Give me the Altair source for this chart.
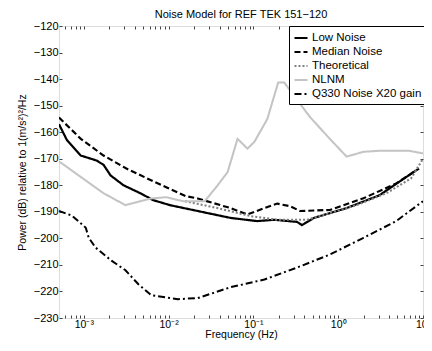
import altair as alt
import pandas as pd

# ---- data (frequency in Hz, power in dB) ----
low_f = [5.1e-4, 6.33e-4, 9.22e-4, 1.42e-3, 1.71e-3, 2.07e-3, 2.94e-3, 4.64e-3, 6.59e-3, 1.04e-2,
         2.21e-2, 5.38e-2, 0.111, 0.176, 0.327, 0.374, 0.517, 1.256, 3.05, 8.28]
low_db = [-157, -163, -168.8, -170.7, -172.3, -176.3, -180, -183, -185.6, -187.5,
          -189.7, -192.3, -193.5, -193, -193.8, -195, -192.3, -188.6, -183.8, -174.4]

med_f = [5.1e-4, 9.22e-4, 1.71e-3, 3.18e-3, 6.59e-3, 1.60e-2, 2.21e-2, 5.38e-2, 8.51e-2, 0.135,
         0.191, 0.271, 0.355, 0.796, 1.986, 4.83, 8.98]
med_db = [-154.5, -162.5, -168.8, -173.7, -178.5, -184.1, -185, -188.6, -191, -188.6,
          -186.9, -187.9, -189.7, -189.3, -184.9, -179.3, -173.7]

theo_f = [1.56e-2, 3.79e-2, 9.23e-2, 0.191, 0.428, 0.733, 1.644, 3.69, 7.24, 10.0]
theo_db = [-186, -188.6, -191.6, -193, -193, -190.8, -187.5, -183, -177.4, -170]

nlnm_f = [5.1e-4, 1.71e-3, 3.10e-3, 6.08e-3, 9.35e-3, 1.48e-2, 2.67e-2, 3.79e-2, 4.97e-2, 6.50e-2,
          8.51e-2, 0.103, 0.146, 0.196, 0.231, 0.465, 0.796, 1.256, 1.986, 3.05, 6.86, 10.0]
nlnm_db = [-171, -183, -187.5, -185, -184.5, -186, -186, -180, -175, -162.5,
           -166.2, -163.6, -155, -141.3, -141.3, -154.3, -162.5, -169.2, -167.4, -167, -167, -168]

q330_f = [5.1e-4, 7.24e-4, 1.055e-3, 1.144e-3, 1.38e-3, 2.12e-3, 3.10e-3, 4.40e-3, 6.24e-3, 1.29e-2,
          2.21e-2, 5.38e-2, 0.135, 0.327, 0.796, 1.986, 4.83, 10.0]
q330_db = [-189.7, -191.4, -196, -199.8, -203.5, -208.4, -212, -217.3, -221.4, -222.9,
           -222.5, -218.4, -215.5, -211, -206.1, -199.8, -193.5, -186]

series = ["Low Noise", "Median Noise", "Theoretical", "NLNM", "Q330 Noise X20 gain"]
colors = ["#000000", "#000000", "#808080", "#c4c4c4", "#000000"]
dashes = [[1, 0], [6, 3], [2, 2], [1, 0], [7, 3, 2, 3]]
widths = [2.2, 2, 1.5, 2, 2]

y_ticks = list(range(-230, -119, 10))
x_ticks = [k * 10.0 ** e for e in range(-4, 1) for k in range(1, 10)] + [10.0]
x_ticks = [v for v in x_ticks if v >= 5.5e-4]

rows = []
for name, fs, ds in [("Low Noise", low_f, low_db), ("Median Noise", med_f, med_db),
                     ("Theoretical", theo_f, theo_db), ("NLNM", nlnm_f, nlnm_db),
                     ("Q330 Noise X20 gain", q330_f, q330_db)]:
    for i, (f, d) in enumerate(zip(fs, ds)):
        rows.append({"series": name, "f": f, "db": d, "i": i})
df = pd.DataFrame(rows)

FONT = "Liberation Sans"
xscale = alt.Scale(type="log", domain=[5.1e-4, 10], nice=False)
yscale = alt.Scale(domain=[-230, -120], nice=False)

label_expr = ("abs(log(datum.value)/LN10 - round(log(datum.value)/LN10)) < 0.001 ? "
              "['10\u207b\u00b3','10\u207b\u00b2','10\u207b\u00b9','10\u2070','10\u00b9']"
              "[round(log(datum.value)/LN10)+3] : ''")

lines = alt.Chart(df).mark_line(clip=True).encode(
    x=alt.X("f:Q", scale=xscale,
            axis=alt.Axis(title="Frequency (Hz)", values=x_ticks, labelExpr=label_expr,
                          orient="bottom", offset=-3, tickSize=3, domain=False, grid=False,
                          labelPadding=1, labelFontSize=10.5, titleFontSize=10.5,
                          titleFontWeight="normal", titlePadding=0, labelFlush=False,
                          labelOverlap=False, tickColor="#444")),
    y=alt.Y("db:Q", scale=yscale,
            axis=alt.Axis(title="Power (dB) relative to 1(m/s\u00b2)\u00b2/Hz", values=y_ticks,
                          labelExpr="replace(datum.label, '-', '\u2212')",
                          orient="left", offset=-3, tickSize=3, domain=False, grid=False,
                          labelPadding=1, labelFontSize=11, titleFontSize=10.5,
                          titleFontWeight="normal", titlePadding=6, tickColor="#444")),
    color=alt.Color("series:N", scale=alt.Scale(domain=series, range=colors),
                    legend=alt.Legend(title=None, orient="none", legendX=230, legendY=0,
                                      strokeColor="#000", fillColor="#fff", padding=4,
                                      symbolType="stroke", symbolSize=170, symbolStrokeWidth=2,
                                      labelFontSize=11.5, labelFont=FONT, rowPadding=0,
                                      symbolOffset=0, labelOffset=3, cornerRadius=0,
                                      labelLimit=200)),
    strokeDash=alt.StrokeDash("series:N", scale=alt.Scale(domain=series, range=dashes),
                              legend=alt.Legend(title=None)),
    strokeWidth=alt.StrokeWidth("series:N", scale=alt.Scale(domain=series, range=widths),
                                legend=None),
    order="i:Q",
)

frame = alt.Chart(df).mark_line(opacity=0).encode(
    x=alt.X("f:Q", scale=xscale,
            axis=alt.Axis(title=None, values=x_ticks, labels=False, orient="top", offset=-3,
                          tickSize=3, domain=False, grid=False, tickColor="#444")),
    y=alt.Y("db:Q", scale=yscale,
            axis=alt.Axis(title=None, values=y_ticks, labels=False, orient="right", offset=-3,
                          tickSize=3, domain=False, grid=False, tickColor="#444")),
    detail="series:N",
)

chart = alt.layer(lines, frame).resolve_axis(x="independent", y="independent").properties(
    width=364, height=292,
    title=alt.Title("Noise Model for REF TEK 151\u2212120", fontSize=11, fontWeight="normal",
                    font=FONT, offset=0),
    autosize=alt.AutoSizeParams(type="none"),
    padding={"left": 51, "top": 18, "right": 1, "bottom": 25},
).configure_view(stroke="#000", strokeWidth=1).configure(font=FONT).configure_axis(
    labelFont=FONT, titleFont=FONT, labelColor="#000", titleColor="#000")

chart.save("out.html", embed_options={"renderer": "svg", "actions": False})
